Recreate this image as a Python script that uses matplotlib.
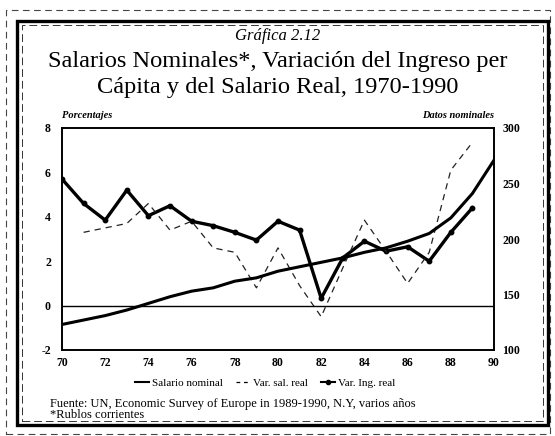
import matplotlib
matplotlib.use("Agg")
import matplotlib.pyplot as plt
from matplotlib.lines import Line2D
from matplotlib.patches import Rectangle

# datos
anios = list(range(1970, 1991))
salario_nominal = [123, 127, 131, 136, 142, 148, 153, 156, 162, 165, 171,
                   175, 179, 183, 188, 192, 198, 205, 219, 241, 271]

anios_ing = list(range(1970, 1990))
var_ing_real = [5.7, 4.6, 3.85, 5.2, 4.05, 4.5, 3.8, 3.6, 3.3, 2.95, 3.8,
                3.4, 0.33, 2.15, 2.9, 2.45, 2.65, 2.0, 3.3, 4.4]

anios_sal = list(range(1971, 1990))
var_sal_real = [3.3, 3.5, 3.7, 4.6, 3.4, 3.8, 2.6, 2.4, 0.8, 2.6, 0.9,
                -0.5, 1.7, 3.85, 2.45, 1.0, 2.4, 6.1, 7.35]

ticks_izq = [-2, 0, 2, 4, 6, 8]
ticks_der = [100, 150, 200, 250, 300]
ticks_x = list(range(1970, 1991, 2))

plt.rcParams['font.family'] = ['Liberation Serif', 'DejaVu Serif']
plt.rcParams['axes.unicode_minus'] = False

fig = plt.figure(figsize=(5.55, 4.36), dpi=100)
W, H = 555.0, 436.0

# marcos del recuadro (escaneado)
fig.patches.append(Rectangle((6 / W, 2 / H), 544 / W, 424 / H, transform=fig.transFigure,
                             fill=False, lw=0.8, ls=(0, (6, 4)), ec='#444444'))
fig.patches.append(Rectangle((17 / W, 1 - 425 / H), 531 / W, 404 / H, transform=fig.transFigure,
                             fill=False, lw=2.4, ec='black'))
fig.patches.append(Rectangle((22 / W, 1 - 421 / H), 521 / W, 396 / H, transform=fig.transFigure,
                             fill=False, lw=0.7, ls=(0, (8, 4)), ec='#333333'))

ax = fig.add_axes([62 / W, 1 - 350 / H, 432 / W, 222 / H])
ax2 = ax.twinx()

ax.plot(anios_ing, var_ing_real, color='black', lw=2.4, marker='o', ms=3.2)
ax.plot(anios_sal, var_sal_real, color='#222222', lw=0.9, ls=(0, (5, 4)))
ax.axhline(0, color='black', lw=1.0)
ax2.plot(anios, salario_nominal, color='black', lw=2.2)

ax.set_xlim(1970, 1990)
ax.set_ylim(-2, 8)
ax2.set_ylim(100, 300)
ax.set_xticks(ticks_x)
ax.set_xticklabels([str(a)[2:] for a in ticks_x])
ax.set_yticks(ticks_izq)
ax2.set_yticks(ticks_der)

ax.tick_params(length=0, labelsize=8.5, pad=5)
ax.tick_params(axis='y', pad=8)
ax2.tick_params(length=0, labelsize=8.5, pad=6)
for a in (ax, ax2):
    for s in a.spines.values():
        s.set_linewidth(1.2)
for lbl in ax.get_xticklabels() + ax.get_yticklabels() + ax2.get_yticklabels():
    lbl.set_fontweight('bold')

# titulos
fig.text(0.5, 1 - 36 / H, 'Gráfica 2.12', ha='center', va='center', fontsize=12, style='italic')
fig.text(0.5, 1 - 61 / H, 'Salarios Nominales*, Variación del Ingreso per',
         ha='center', va='center', fontsize=17.6)
fig.text(0.5, 1 - 88 / H, 'Cápita y del Salario Real, 1970-1990',
         ha='center', va='center', fontsize=17.6)
fig.text(62 / W, 1 - 115 / H, 'Porcentajes', ha='left', va='center', fontsize=7.5,
         style='italic', fontweight='bold')
fig.text(494 / W, 1 - 115 / H, 'Datos nominales', ha='right', va='center', fontsize=7.5,
         style='italic', fontweight='bold')

handles = [Line2D([], [], color='black', lw=1.5),
           Line2D([], [], color='black', lw=0.9, ls=(0, (3, 3))),
           Line2D([], [], color='black', lw=1.5, marker='o', ms=3)]
fig.legend(handles, ['Salario nominal', 'Var. sal. real', 'Var. Ing. real'],
           loc='center', bbox_to_anchor=(265 / W, 1 - 383 / H), ncol=3, frameon=False,
           fontsize=8, handlelength=1.3, handletextpad=0.2, columnspacing=1.2)

fig.text(50 / W, 1 - 404 / H, 'Fuente: UN, Economic Survey of Europe in 1989-1990, N.Y, varios años',
         ha='left', va='center', fontsize=9)
fig.text(50 / W, 1 - 415 / H, '*Rublos corrientes', ha='left', va='center', fontsize=9)

fig.savefig('out.png', dpi=100)
